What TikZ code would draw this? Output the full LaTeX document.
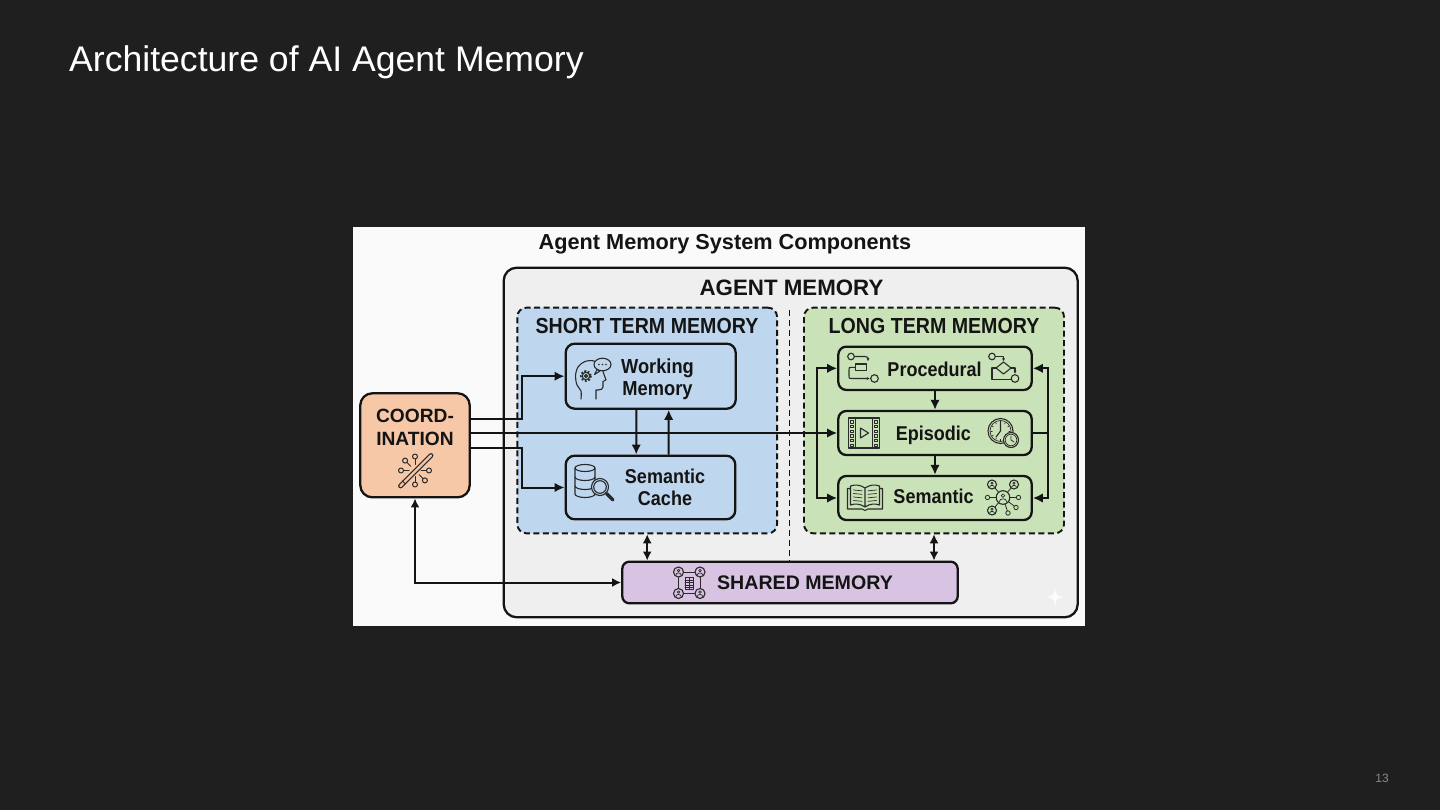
\documentclass[tikz,border=0pt]{standalone}
\usepackage{fontspec}
\setmainfont{Liberation Sans}
\newfontfamily\narrowfont[FakeStretch=0.9]{Liberation Sans}
\usetikzlibrary{arrows.meta,calc}
\definecolor{slidebg}{HTML}{1F1F1F}
\definecolor{panelbg}{HTML}{FAFAFA}
\definecolor{amfill}{HTML}{EFEFEF}
\definecolor{stmfill}{HTML}{BED7EE}
\definecolor{ltmfill}{HTML}{C9E2B7}
\definecolor{coordfill}{HTML}{F6C8A8}
\definecolor{shmfill}{HTML}{D8C4E2}
\definecolor{ink}{HTML}{141414}
\definecolor{icol}{HTML}{2A2A2A}
\definecolor{pagenum}{HTML}{8A8A8A}
\newcommand{\pglyph}[4]{%
  \draw[icon, fill=#4] (#1,#2) circle (#3);
  \draw[icon, line width=0.7pt] (#1,#2-0.28*#3) circle (0.27*#3);
  \draw[icon, line width=0.7pt] (#1-0.55*#3,#2+0.62*#3) .. controls (#1-0.5*#3,#2+0.05*#3) and (#1+0.5*#3,#2+0.05*#3) .. (#1+0.55*#3,#2+0.62*#3);}
\begin{document}
\begin{tikzpicture}[x=1pt,y=-1pt,
  box/.style={draw=ink, line width=2.3pt, rounded corners=8pt, inner sep=0pt},
  group/.style={draw=ink, line width=1.9pt, dash pattern=on 6pt off 3.5pt, rounded corners=9pt, inner sep=0pt},
  arr/.style={draw=ink, line width=2pt, -{Latex[length=10pt,width=9.5pt]}},
  darr/.style={draw=ink, line width=2pt, {Latex[length=9pt,width=9pt]}-{Latex[length=9pt,width=9pt]}},
  sep/.style={draw=ink, line width=1.7pt, dash pattern=on 6pt off 4pt},
  lbl/.style={inner sep=0pt, text=ink},
  boxlbl/.style={lbl, font=\narrowfont\bfseries\fontsize{20}{21.7}\selectfont},
  icon/.style={draw=icol, line width=1.1pt, line cap=round, line join=round},
  smalltip/.style={-{Latex[length=3.2pt,width=3.2pt]}},
]
\fill[slidebg] (0,0) rectangle (1440,810);
\useasboundingbox (0,0) rectangle (1440,810);
\node[lbl, anchor=base west, text=white, font=\fontsize{35.6}{40}\selectfont] (title) at (69,72) {Architecture of AI Agent Memory};
\node[lbl, anchor=base, text=pagenum, font=\fontsize{12}{14}\selectfont] (pnum) at (1382,782) {13};

% panel
\node[fill=panelbg, inner sep=0pt, minimum width=732, minimum height=399] (panel) at (719,426.5) {};
\node[lbl, anchor=base, font=\bfseries\fontsize{21.7}{24}\selectfont] (dtitle) at (725,250) {Agent Memory System Components};

% agent memory
\node[box, fill=amfill, rounded corners=13pt, minimum width=574, minimum height=349.6] (am) at (790.7,442.5) {};
\node[lbl, anchor=base, font=\bfseries\fontsize{22.3}{24}\selectfont] (amtitle) at (791.5,295.5) {AGENT MEMORY};

\node[group, fill=stmfill, minimum width=259.7, minimum height=225.6] (stm) at (647.2,420.5) {};
\node[group, fill=ltmfill, minimum width=260, minimum height=225.6] (ltm) at (934,420.5) {};
\node[lbl, anchor=base, font=\narrowfont\bfseries\fontsize{21.8}{24}\selectfont] (stmtitle) at (647,333) {SHORT TERM MEMORY};
\node[lbl, anchor=base, font=\narrowfont\bfseries\fontsize{21.8}{24}\selectfont] (ltmtitle) at (934,333) {LONG TERM MEMORY};

% boxes
\node[box, fill=stmfill, rounded corners=9pt, minimum width=170, minimum height=65] (wm) at (650.7,376.2) {};
\node[box, fill=stmfill, rounded corners=9pt, minimum width=169.6, minimum height=63.6] (sc) at (650.5,487.5) {};
\node[box, fill=coordfill, rounded corners=12pt, minimum width=109.4, minimum height=104] (coord) at (415,445.3) {};
\node[box, fill=ltmfill, minimum width=193.4, minimum height=43.3] (proc) at (935,368.3) {};
\node[box, fill=ltmfill, minimum width=193.4, minimum height=44] (epi) at (935,433) {};
\node[box, fill=ltmfill, minimum width=193.4, minimum height=44] (sem) at (935,498) {};
\node[box, fill=shmfill, rounded corners=7pt, minimum width=335.4, minimum height=41.6] (shm) at (790,582.5) {};

% separator
\coordinate (septop) at (789.5,310);
\draw[sep] (septop) -- (septop |- shm.north);

% connectors
\draw[arr] ([yshift=26.5pt]coord.east) -- ++(51.5,0) |- (wm.west);
\draw[arr] (coord.east |- epi.west) -- (epi.west);
\draw[arr] ([yshift=-3pt]coord.east) -- ++(51.5,0) |- (sc.west);
\draw[arr] ([xshift=-14.3pt]wm.south) -- ([xshift=-14.3pt]sc.north);
\draw[arr] ([xshift=18pt]sc.north) -- ([xshift=18pt]wm.south);
\draw[arr] ([xshift=-20pt]epi.west) |- (proc.west);
\draw[arr] ([xshift=-20pt]epi.west) |- (sem.west);
\draw[arr] (epi.east) -- ++(15,0) |- (proc.east);
\draw[arr] (epi.east) -- ++(15,0) |- (sem.east);
\draw[arr] (proc.south) -- (epi.north);
\draw[arr] (epi.south) -- (sem.north);
\draw[darr] (stm.south) -- (stm.south |- shm.north);
\draw[darr] (ltm.south) -- (ltm.south |- shm.north);
\draw[darr] (coord.south) |- (shm.west);

% labels
\node[boxlbl, align=center, font=\narrowfont\bfseries\fontsize{20.3}{21.6}\selectfont] (wmtext) at (657.5,379.3) {Working\\Memory};
\node[boxlbl, align=center] (sctext) at (665,487.5) {Semantic\\Cache};
\node[lbl, align=center, font=\bfseries\fontsize{19.2}{23}\selectfont] (coordtext) at (415,427.3) {COORD-\\INATION};
\node[boxlbl, anchor=base] (proctext) at (934.5,376) {Procedural};
\node[boxlbl, anchor=base] (epitext) at (933.3,440) {Episodic};
\node[boxlbl, anchor=base] (semtext) at (933.5,503.3) {Semantic};
\node[lbl, anchor=base, font=\bfseries\fontsize{19.6}{22}\selectfont] (shmtext) at (805,589) {SHARED MEMORY};

% ---- icons ----
% working memory: head, gear, bubble
\draw[icon] plot[smooth, tension=0.55] coordinates {(581,399) (581,391) (577,385) (575.5,376) (578,367) (585,361.5) (594,361) (601,366) (603.5,373) (606,380)} -- (603,381.5) -- (603,387) .. controls (603,389) and (601,390) .. (598,390) -- (596,390) -- (596,399);
\draw[icon, line cap=butt, line width=2.2pt, dash pattern=on 1.7pt off 1.7pt] (586,376) circle (4.8);
\draw[icon] (586,376) circle (3.7);
\draw[icon] (586,376) circle (1.5);
\draw[icon, fill=stmfill] (597,369.5) -- (594.5,374.5) -- (600,371) -- cycle;
\draw[icon, fill=stmfill] (602.5,364.5) ellipse (8.5 and 6.3);
\fill[icol] (599,364.5) circle (0.9) (602.5,364.5) circle (0.9) (606,364.5) circle (0.9);

% semantic cache: database + magnifier
\draw[icon] (585,468) ellipse (10 and 3.5);
\draw[icon] (575,468) -- (575,494) arc[start angle=180, end angle=0, x radius=10, y radius=3.5] -- (595,468);
\draw[icon] (575,477) arc[start angle=180, end angle=0, x radius=10, y radius=3.5];
\draw[icon] (575,486) arc[start angle=180, end angle=0, x radius=10, y radius=3.5];
\draw[icon, fill=stmfill] (600,487) circle (8.5);
\draw[icon] (600,487) circle (6.3);
\draw[icol, line width=3.2pt, line cap=round] (606.5,493.5) -- (613,500);

% coordination: wand with nodes
\foreach \a in {90,-90,0,180,-135,45} {
  \draw[icon, line width=1pt] ([shift={(\a:6)}]415,470.5) -- ([shift={(\a:11.5)}]415,470.5);
  \draw[icon, line width=1pt] ([shift={(\a:14)}]415,470.5) circle (2.5);
}
\draw[icol, line width=4.8pt, line cap=round] (400.5,486) -- (431,455.5);
\draw[coordfill, line width=2.4pt, line cap=round] (400.5,486) -- (431,455.5);
\draw[icon, line width=0.9pt] (402.5,481) -- (405.5,484);

% procedural left
\draw[icon] (851,356.5) circle (3.3);
\draw[icon, smalltip] (854.3,356.5) -- (865,356.5) .. controls (868,356.5) and (868,358) .. (868,361.5);
\draw[icon] (855.5,364) rectangle (866.5,370.5);
\draw[icon, smalltip] (855.5,367.3) -- (851.5,367.3) .. controls (849,367.3) .. (849,370) -- (849,376) .. controls (849,378.5) .. (851.5,378.5) -- (870,378.5);
\draw[icon] (874.5,378.5) circle (3.8);
% procedural right
\draw[icon] (992,356.5) circle (3.3);
\draw[icon, smalltip] (995.3,356.5) -- (1003.5,356.5) -- (1003.5,361.5);
\draw[icon] (1003.5,362) -- (1011,368) -- (1003.5,374) -- (996,368) -- cycle;
\draw[icon] (996,368) -- (992,368) -- (992,379.5) -- (1010.5,379.5);
\draw[icon, smalltip] (1011,368) -- (1015,368) -- (1015,374);
\draw[icon] (1015,378.5) circle (3.8);

% episodic left: film
\draw[icon] (848.5,418) rectangle (879.5,448);
\draw[icon] (855.5,418) -- (855.5,448) (872.5,418) -- (872.5,448);
\foreach \y in {420.5,425.2,429.9,434.6,439.3,444} {
  \draw[icon, line width=0.7pt] (850.5,\y) rectangle (853.5,\y+2.5);
  \draw[icon, line width=0.7pt] (874.5,\y) rectangle (877.5,\y+2.5);
}
\draw[icon] (860.5,428) -- (868.5,433) -- (860.5,438) -- cycle;
% episodic right: clocks
\draw[icon] (1000.5,431) circle (12.5);
\draw[icon, line width=0.7pt] (1000.5,431) circle (10.5);
\foreach \a in {0,30,...,330} {
  \draw[icon, line width=0.6pt] ([shift={(\a:8.3)}]1000.5,431) -- ([shift={(\a:9.8)}]1000.5,431);
}
\draw[icon] (1000.5,431) -- (1000.5,422.5) (1000.5,431) -- (996,437);
\draw[icon, fill=ltmfill] (1011,440) circle (7.5);
\draw[icon, line width=0.7pt] (1011,440) circle (5.8);
\draw[icon, line width=0.8pt] (1011,440) -- (1011,436) (1011,440) -- (1014,442);

% semantic left: book
\draw[icon] (865,488) .. controls (860,484.5) and (855,484.5) .. (850.5,486) -- (850.5,505) .. controls (855,503.5) and (860,503.5) .. (865,507) .. controls (870,503.5) and (875,503.5) .. (879.5,505) -- (879.5,486) .. controls (875,484.5) and (870,484.5) .. (865,488) -- (865,507);
\draw[icon] (850.5,488.5) -- (847.5,488.5) -- (847.5,509) -- (862,509) .. controls (863.5,509) and (864,510.5) .. (865,510.5) .. controls (866,510.5) and (866.5,509) .. (868,509) -- (882.5,509) -- (882.5,488.5) -- (879.5,488.5);
\foreach \y in {490,493.5,497,500.5} {
  \draw[icon, line width=0.7pt] (853.5,\y) -- (862,\y+0.8);
  \draw[icon, line width=0.7pt] (868,\y+0.8) -- (876.5,\y);
}
% semantic right: network
\foreach \p in {(992,484.5),(1014,484.5),(992,510.5),(987.5,497.5),(1018.5,497.5),(1008,513),(1016,507.5)} {
  \draw[icon, line width=0.8pt] (1003,497.5) -- \p;
}
\pglyph{992}{484.5}{4.5}{ltmfill}
\pglyph{1014}{484.5}{4.5}{ltmfill}
\pglyph{992}{510.5}{4.5}{ltmfill}
\draw[icon, line width=0.8pt, fill=ltmfill] (987.5,497.5) circle (2.2) (1018.5,497.5) circle (2.2) (1008,513) circle (2.2) (1016,507.5) circle (2.2);
\pglyph{1003}{497.5}{6.8}{ltmfill}

% shared memory icon
\draw[icon, line width=0.9pt] (683.5,572) -- (695,572) (683.5,593.5) -- (695,593.5) (678.5,577) -- (678.5,588.5) (700,577) -- (700,588.5);
\draw[icon, line width=0.8pt, fill=shmfill] (685,577.5) rectangle (693.5,589);
\foreach \y in {580,582.5,585,587.5} { \draw[icon, line width=0.6pt] (685,\y) -- (693.5,\y); }
\draw[icon, line width=0.6pt] (689.25,577.5) -- (689.25,589);
\pglyph{678.5}{572}{5}{shmfill}
\pglyph{700}{572}{5}{shmfill}
\pglyph{678.5}{593.5}{5}{shmfill}
\pglyph{700}{593.5}{5}{shmfill}

% watermark sparkle
\fill[white, opacity=0.85] (1055,586) .. controls (1056,596) .. (1066,597) .. controls (1056,598) .. (1055,608) .. controls (1054,598) .. (1044,597) .. controls (1054,596) .. (1055,586) -- cycle;
\end{tikzpicture}
\end{document}
